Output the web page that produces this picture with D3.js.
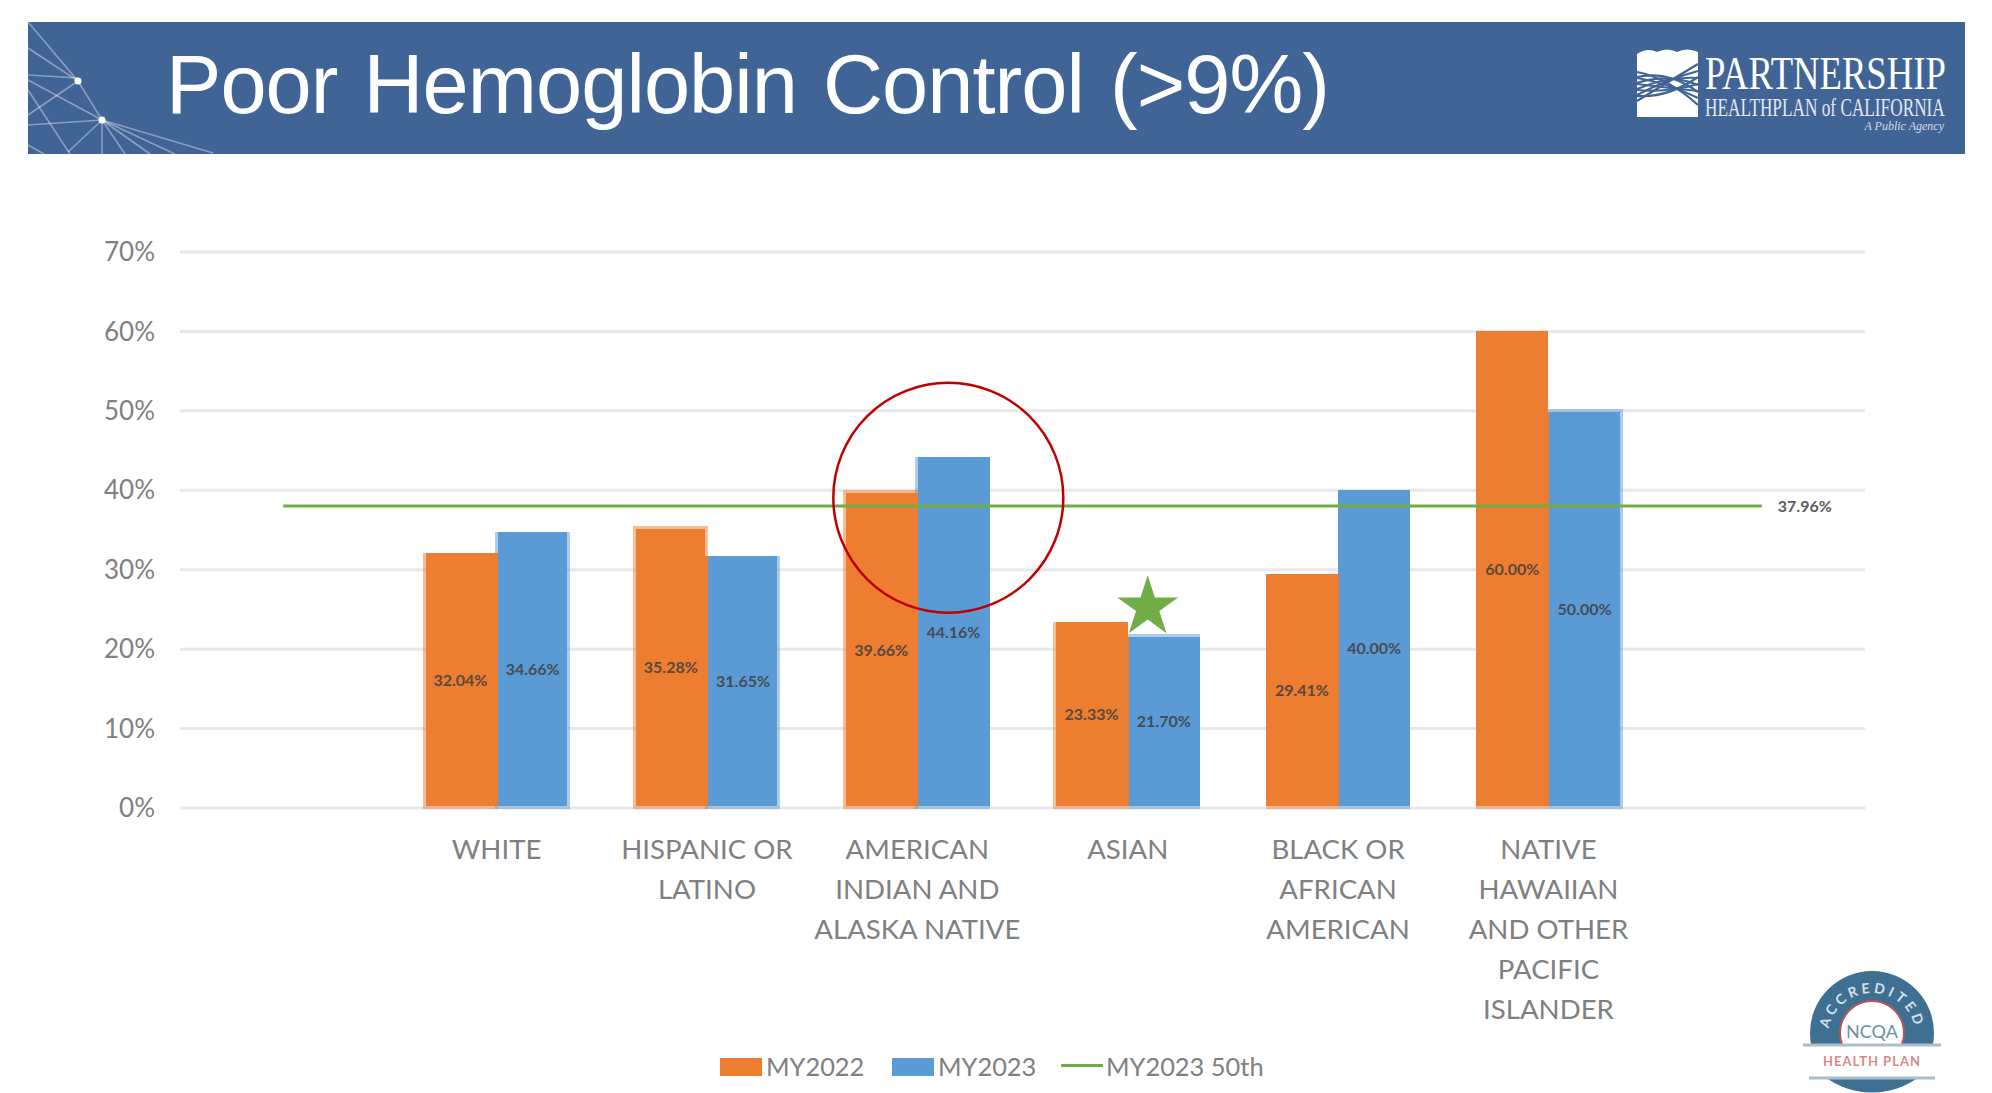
<!DOCTYPE html>
<html>
<head>
<meta charset="utf-8">
<script src="https://cdn.jsdelivr.net/npm/d3@7"></script>
<style>
	html, body { margin: 0; padding: 0; background: #fff; }
	svg { display: block; }
	text { font-family: Lato, "Open Sans", sans-serif; }
	.tick-label, .cat-label, .legend-label { fill: #808080; }
	.cat-label { font-size: 27.6px; }
	.legend-label { font-size: 25.4px; }
	.value-label { fill: #404040; font-size: 16px; font-weight: 700; text-anchor: middle; opacity: 0.85; }
	.serif { font-family: "Liberation Serif", serif; fill: #fff; }
</style>
</head>
<body>
<div class="container"></div>
<script>
// empty first and last slots are part of the original category axis
const categories = ["", "WHITE", "HISPANIC OR|LATINO", "AMERICAN|INDIAN AND|ALASKA NATIVE", "ASIAN",
	"BLACK OR|AFRICAN|AMERICAN", "NATIVE|HAWAIIAN|AND OTHER|PACIFIC|ISLANDER", " "];
const my2022 = [null, 32.04, 35.28, 39.66, 23.33, 29.41, 60.00, null];
const my2023 = [null, 34.66, 31.65, 44.16, 21.70, 40.00, 50.00, null];
const benchmark = 37.96;
const yTicks = [0, 10, 20, 30, 40, 50, 60, 70];
const seriesNames = ["MY2022", "MY2023"];
const lineName = "MY2023 50th";
const highlighted = "AMERICAN|INDIAN AND|ALASKA NATIVE";
const starred = "ASIAN";

const outerWidth = 1992;
const outerHeight = 1093;
const colors = { MY2022: "#ed7d31", MY2023: "#5b9bd5", line: "#70ad47", banner: "#416497" };

const svg = d3.select(".container").append("svg")
	.attr("width", outerWidth)
	.attr("height", outerHeight);

drawBanner();

const scaleX = d3.scaleBand()
	.domain(categories)
	.range([181, 1864])
	.paddingInner(0.313)
	.paddingOuter(0.1565);

const scaleSeries = d3.scaleBand()
	.domain(seriesNames)
	.range([0, scaleX.bandwidth()]);

const scaleY = d3.scaleLinear()
	.domain([0, 70])
	.range([807.5, 251.5]);

// grid and y labels
const yAxis = svg.append("g")
	.attr("transform", "translate(180,0)")
	.call(d3.axisLeft(scaleY)
		.tickValues(yTicks)
		.tickSize(-1685)
		.tickPadding(25)
		.tickFormat((d) => `${d}%`));
yAxis.select(".domain").remove();
yAxis.selectAll("line").attr("stroke", "#e8e8e8").attr("stroke-width", 3);
yAxis.selectAll("text")
	.attr("class", "tick-label")
	.attr("fill", null)
	.attr("dy", "0.35em")
	.style("font-family", null)
	.style("font-size", "26px");

// bars
const rows = seriesNames.flatMap((name, s) => {
	const values = s === 0 ? my2022 : my2023;
	return categories
		.map((cat, i) => ({ name, cat, value: values[i] }))
		.filter((d) => d.value !== null);
});

// the source is an upscaled image: an edge that only partly covers a source pixel
// (3px here) shows as a paler strip, one that nearly covers or misses it does not
const pixel = 3;
function edge(v, off, rising) {
	const lo = Math.floor((v - off) / pixel) * pixel + off;
	const f = (v - lo) / pixel;
	// rising: the bar starts at this edge and goes on to larger coordinates
	const solid = rising ? (f < 0.15 ? lo : lo + pixel) : (f > 0.85 ? lo + pixel : lo);
	const pale = rising ? (f > 0.85 ? lo + pixel : lo) : (f < 0.15 ? lo : lo + pixel);
	return { solid, pale };
}
const barLeft = (d) => scaleX(d.cat) + scaleSeries(d.name);
const barRight = (d) => barLeft(d) + scaleSeries.bandwidth();
const edges = (d) => ({
	left: edge(barLeft(d), 0, true),
	right: edge(barRight(d), 0, false),
	top: edge(scaleY(d.value), 1, true)
});

const bars = svg.append("g").selectAll(".bar")
	.data(rows).enter()
	.append("g")
		.attr("class", "bar");

bars.append("rect")
	.attr("x", (d) => edges(d).left.pale)
	.attr("y", (d) => edges(d).top.pale)
	.attr("width", (d) => edges(d).right.pale - edges(d).left.pale)
	.attr("height", (d) => scaleY(0) + 1.5 - edges(d).top.pale)
	.attr("fill", (d) => colors[d.name])
	.attr("opacity", 0.5);

bars.append("rect")
	.attr("x", (d) => edges(d).left.solid)
	.attr("y", (d) => edges(d).top.solid)
	.attr("width", (d) => edges(d).right.solid - edges(d).left.solid)
	.attr("height", (d) => scaleY(0) - 1.5 - edges(d).top.solid)
	.attr("fill", (d) => colors[d.name]);

// the two series touch each other, no white gap between them
const sharedTop = (d) => edge(Math.max(scaleY(d.value), scaleY(my2023[categories.indexOf(d.cat)])), 1, true).solid;
svg.append("g").selectAll("rect")
	.data(rows.filter((d) => d.name === seriesNames[0])).enter()
	.append("rect")
		.attr("x", (d) => Math.round(barRight(d)) - pixel)
		.attr("y", sharedTop)
		.attr("width", pixel + 1)
		.attr("height", (d) => scaleY(0) - 1.5 - sharedTop(d))
		.attr("fill", (d) => colors[d.name]);

svg.append("g").selectAll("text")
	.data(rows).enter()
	.append("text")
		.attr("class", "value-label")
		.attr("x", (d) => barLeft(d) + scaleSeries.bandwidth() / 2)
		.attr("y", (d) => scaleY(d.value / 2))
		.attr("dy", "0.35em")
		.text((d) => `${d.value.toFixed(2)}%`);

// benchmark line
const lineX1 = scaleX(categories[0]) + scaleX.bandwidth() / 2 - 3;
const lineX2 = scaleX(categories[categories.length - 1]) + scaleX.bandwidth() / 2 + 3;

svg.append("line")
	.attr("x1", lineX1)
	.attr("x2", lineX2)
	.attr("y1", scaleY(benchmark))
	.attr("y2", scaleY(benchmark))
	.attr("stroke", colors.line)
	.attr("stroke-width", 3);

svg.append("text")
	.attr("class", "value-label")
	.attr("x", lineX2 + 43)
	.attr("y", scaleY(benchmark))
	.attr("dy", "0.35em")
	.text(`${benchmark.toFixed(2)}%`);

// category labels
svg.append("g").selectAll("text")
	.data(categories.filter((d) => d.trim() !== "")).enter()
	.append("text")
		.attr("class", "cat-label")
		.attr("text-anchor", "middle")
		.attr("transform", (d) => `translate(${scaleX(d) + scaleX.bandwidth() / 2},0)`)
	.selectAll("tspan")
		.data((d) => d.split("|")).enter()
	.append("tspan")
		.attr("x", 0)
		.attr("y", (d, i) => 859 + i * 40)
		.text((d) => d);

// red circle and green star annotations
svg.append("circle")
	.attr("cx", scaleX(highlighted) + scaleX.bandwidth() / 2 + 31)
	.attr("cy", scaleY(39))
	.attr("r", 115)
	.attr("fill", "none")
	.attr("stroke", "#c00000")
	.attr("stroke-width", 2.5);

svg.append("path")
	.attr("d", d3.symbol(d3.symbolStar).size(1150)())
	.attr("transform", `translate(${scaleX(starred) + scaleX.bandwidth() / 2 + 20},${scaleY(25.2)})`)
	.attr("fill", colors.line);

// legend
const legend = svg.append("g");
const swatchX = [720, 892];
const legendTextX = [766, 938, 1106];

legend.selectAll(".swatch")
	.data(seriesNames).enter()
	.append("rect")
		.attr("class", "swatch")
		.attr("x", (d, i) => swatchX[i])
		.attr("y", 1058)
		.attr("width", 42)
		.attr("height", 18)
		.attr("fill", (d) => colors[d]);

legend.selectAll(".legend-label")
	.data(seriesNames.concat(lineName)).enter()
	.append("text")
		.attr("class", "legend-label")
		.attr("x", (d, i) => legendTextX[i])
		.attr("y", 1076)
		.text((d) => d);

legend.append("line")
	.attr("x1", 1061)
	.attr("x2", 1103)
	.attr("y1", 1065.5)
	.attr("y2", 1065.5)
	.attr("stroke", colors.line)
	.attr("stroke-width", 3);

drawBadge();

function drawBanner() {
	const banner = svg.append("g");

	banner.append("rect")
		.attr("x", 28).attr("y", 22)
		.attr("width", 1937).attr("height", 132)
		.attr("fill", colors.banner);

	// network pattern in the corner
	const strands = [
		[28, 22, 78, 81], [28, 48, 78, 81], [28, 75, 78, 78], [28, 80, 102, 120], [78, 81, 102, 120],
		[78, 81, 28, 115], [28, 90, 70, 154], [102, 120, 28, 125], [102, 120, 68, 152], [102, 120, 102, 154],
		[102, 120, 213, 153], [102, 120, 175, 154], [102, 120, 150, 154], [102, 120, 125, 154], [28, 145, 44, 154]
	];
	banner.selectAll("line")
		.data(strands).enter()
		.append("line")
			.attr("x1", (d) => d[0]).attr("y1", (d) => d[1])
			.attr("x2", (d) => d[2]).attr("y2", (d) => d[3])
			.attr("stroke", "#fff")
			.attr("stroke-opacity", 0.38)
			.attr("stroke-width", 1.6);
	banner.selectAll("circle")
		.data([[78, 81], [102, 120]]).enter()
		.append("circle")
			.attr("cx", (d) => d[0]).attr("cy", (d) => d[1])
			.attr("r", 3.5)
			.attr("fill", "#fff");

	banner.append("text")
		.attr("x", 166)
		.attr("y", 113)
		.attr("textLength", 1164)
		.style("font-family", "'Liberation Sans', sans-serif")
		.style("font-size", "83px")
		.style("word-spacing", "4px")
		.attr("fill", "#fff")
		.text("Poor Hemoglobin Control (>9%)");

	// partnership logo
	const logo = banner.append("g");
	logo.append("path")
		.attr("d", "M1637 54 Q1647 47 1657 52 Q1667 47 1677 52 Q1687 47 1698 52 L1698 117 L1637 117 Z")
		.attr("fill", "#fff");
	const weave = d3.range(5).flatMap((i) => [
		`M1637 ${72 + i * 6} Q1668 ${78 + i * 5} 1698 ${105 - i * 7}`,
		`M1637 ${101 - i * 6} Q1668 ${82 - i * 3} 1698 ${64 + i * 7}`
	]);
	logo.selectAll(".weave")
		.data(weave).enter()
		.append("path")
			.attr("class", "weave")
			.attr("d", (d) => d)
			.attr("fill", "none")
			.attr("stroke", colors.banner)
			.attr("stroke-width", 2.2);

	// narrow serif lettering, squeezed with a transform so the box stays inside the page
	logo.append("text").attr("class", "serif")
		.attr("transform", "translate(1705,89) scale(0.78,1)")
		.style("font-size", "47px")
		.text("PARTNERSHIP");
	logo.append("text").attr("class", "serif")
		.attr("transform", "translate(1705,116) scale(0.69,1)")
		.style("font-size", "25px")
		.attr("opacity", 0.85)
		.text("HEALTHPLAN of CALIFORNIA");
	logo.append("text").attr("class", "serif")
		.attr("x", 1944).attr("y", 130)
		.attr("text-anchor", "end")
		.style("font-size", "12px")
		.style("font-style", "italic")
		.attr("opacity", 0.75)
		.text("A Public Agency");
}

function drawBadge() {
	const cx = 1872, cy = 1033, rOuter = 62, rInner = 32;
	const badge = svg.append("g");
	const clipTop = badge.append("clipPath").attr("id", "badge-top");
	clipTop.append("rect").attr("x", cx - 70).attr("y", cy - 70).attr("width", 140).attr("height", 82);
	const clipBottom = badge.append("clipPath").attr("id", "badge-bottom");
	clipBottom.append("rect").attr("x", cx - 70).attr("y", 1079).attr("width", 140).attr("height", 20);

	badge.append("circle")
		.attr("cx", cx).attr("cy", cy).attr("r", rOuter)
		.attr("fill", "#3f6f91")
		.attr("clip-path", "url(#badge-top)");
	badge.append("circle")
		.attr("cx", cx).attr("cy", cy - 20).attr("r", 79.5)
		.attr("fill", "#3f6f91")
		.attr("clip-path", "url(#badge-bottom)");
	badge.append("circle")
		.attr("cx", cx).attr("cy", cy).attr("r", rInner)
		.attr("fill", "#fff")
		.attr("stroke", "#b5575a")
		.attr("stroke-width", 2)
		.attr("clip-path", "url(#badge-top)");

	badge.append("path")
		.attr("id", "badge-arc")
		.attr("fill", "none")
		.attr("d", `M${cx - 44} ${cy + 4} A44 44 0 0 1 ${cx + 44} ${cy + 4}`);
	badge.append("text")
		.attr("fill", "#d5e0e7")
		.style("font-size", "14px")
		.style("font-weight", "700")
		.style("letter-spacing", "3.5px")
		.append("textPath")
			.attr("href", "#badge-arc")
			.attr("startOffset", "50%")
			.attr("text-anchor", "middle")
			.text("ACCREDITED");

	badge.append("text")
		.attr("x", cx).attr("y", 1038)
		.attr("text-anchor", "middle")
		.attr("fill", "#6d8fa6")
		.style("font-size", "18px")
		.text("NCQA");

	badge.selectAll(".rule")
		.data([[1803, 1941, 1045], [1809, 1935, 1078]]).enter()
		.append("line")
			.attr("class", "rule")
			.attr("x1", (d) => d[0]).attr("x2", (d) => d[1])
			.attr("y1", (d) => d[2]).attr("y2", (d) => d[2])
			.attr("stroke", "#a9bdca")
			.attr("stroke-width", 3);

	badge.append("text")
		.attr("x", cx).attr("y", 1066)
		.attr("text-anchor", "middle")
		.attr("fill", "#d98a86")
		.style("font-size", "13px")
		.style("font-weight", "700")
		.style("letter-spacing", "1px")
		.text("HEALTH PLAN");
}
</script>
</body>
</html>
